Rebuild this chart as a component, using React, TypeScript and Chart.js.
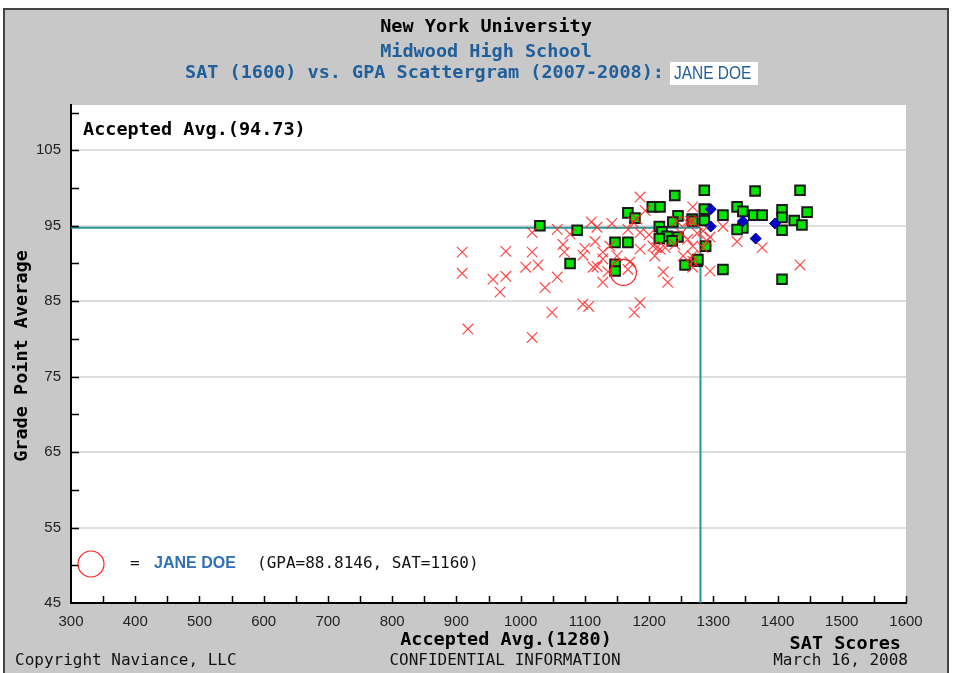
import { useEffect, useRef } from "react";
import { Chart, registerables } from "chart.js";
Chart.register(...registerables);

const COLLEGE = "New York University";
const SCHOOL = "Midwood High School";
const SUBTITLE = "SAT (1600) vs. GPA Scattergram (2007-2008):";
const STUDENT_NAME = "JANE DOE";
const STUDENT_GPA = 88.8146;
const STUDENT_SAT = 1160;
const ACCEPTED_AVG_GPA = 94.73;
const ACCEPTED_AVG_SAT = 1280;
const X_TITLE = "SAT Scores";
const Y_TITLE = "Grade Point Average";
const FOOT_LEFT = "Copyright Naviance, LLC";
const FOOT_MID = "CONFIDENTIAL INFORMATION";
const FOOT_RIGHT = "March 16, 2008";
const Y_TICKS = [45, 55, 65, 75, 85, 95, 105];

// [SAT, GPA]
const acceptedPts: number[][] = [
  [1030, 95.0], [1088, 94.4], [1077, 90.0], [1240, 99.0], [1205, 97.5], [1217, 97.5],
  [1167, 96.7], [1178, 96.0], [1245, 96.3], [1267, 95.9], [1237, 95.5], [1216, 94.9],
  [1220, 94.2], [1228, 93.6], [1245, 93.5], [1147, 92.8], [1167, 92.8], [1216, 93.3],
  [1236, 93.0], [1147, 89.9], [1147, 89.0], [1256, 89.8], [1275, 90.3], [1286, 99.7],
  [1365, 99.6], [1435, 99.7], [1286, 97.2], [1337, 97.5], [1346, 96.9], [1315, 96.4],
  [1363, 96.4], [1376, 96.4], [1407, 97.1], [1407, 96.1], [1426, 95.7], [1438, 95.1],
  [1446, 96.8], [1407, 94.4], [1346, 94.7], [1337, 94.5], [1286, 95.7], [1268, 95.6],
  [1288, 92.3], [1276, 90.5], [1315, 89.2], [1407, 87.9],
];

const waitlistedPts: number[][] = [
  [1296, 97.2], [1296, 94.9], [1346, 95.6], [1366, 93.3], [1396, 95.3],
];

const deniedPts: number[][] = [
  [909, 91.5], [909, 88.7], [918, 81.3], [957, 87.9], [968, 86.2], [977, 91.6],
  [977, 88.3], [1008, 89.5], [1018, 94.1], [1018, 91.5], [1018, 80.2], [1027, 89.8],
  [1038, 86.8], [1049, 83.5], [1057, 94.5], [1057, 88.2], [1066, 92.5], [1068, 91.5],
  [1077, 93.9], [1097, 91.1], [1097, 84.6], [1106, 84.3], [1110, 95.5], [1116, 92.9],
  [1119, 94.8], [1119, 89.6], [1128, 91.5], [1128, 90.6], [1128, 87.5], [1139, 92.3],
  [1136, 88.9], [1113, 89.5], [1142, 95.3], [1167, 94.5], [1175, 95.5], [1186, 98.8],
  [1186, 94.1], [1181, 95.9], [1186, 91.9], [1170, 90.2], [1167, 89.2], [1186, 84.8],
  [1177, 83.5], [1194, 97.0], [1206, 92.3], [1212, 92.1], [1217, 91.9], [1209, 91.0],
  [1225, 92.1], [1222, 88.9], [1229, 87.5], [1243, 95.6], [1259, 95.5], [1264, 95.6],
  [1253, 91.0], [1268, 90.3], [1268, 97.5], [1268, 95.6], [1284, 94.3], [1295, 93.5],
  [1315, 94.9], [1337, 92.9], [1376, 92.1], [1268, 92.3], [1284, 92.1], [1267, 91.0],
  [1268, 89.5], [1295, 89.0], [1435, 89.8], [1250, 94.0], [1260, 93.2], [1275, 94.0],
  [1240, 92.5], [1290, 93.0], [1200, 93.8], [1150, 91.0], [1100, 92.0],
];

const toXY = (arr: number[][]) => arr.map(([x, y]) => ({ x, y }));

const MONO = "'DejaVu Sans Mono'";
const SANS = "'Liberation Sans'";
const BLUE = "#215f9a";

export default function App() {
  const ref = useRef<HTMLCanvasElement | null>(null);
  useEffect(() => {
    if (!ref.current) return;
    const decor = {
      id: "decor",
      beforeDraw(chart: any) {
        const { ctx, chartArea: a } = chart;
        ctx.save();
        ctx.fillStyle = "#ffffff";
        ctx.fillRect(0, 0, 956, 673);
        ctx.fillStyle = "#c8c8c8";
        ctx.fillRect(3, 8, 945, 665);
        ctx.strokeStyle = "#444";
        ctx.lineWidth = 2;
        ctx.beginPath();
        ctx.moveTo(4, 673);
        ctx.lineTo(4, 9);
        ctx.lineTo(948, 9);
        ctx.lineTo(948, 673);
        ctx.stroke();
        ctx.fillStyle = "#ffffff";
        ctx.fillRect(a.left, a.top, a.right - a.left, a.bottom - a.top);
        ctx.restore();
      },
      afterDraw(chart: any) {
        const { ctx, chartArea: a, scales } = chart;
        const xs = scales.x;
        const ys = scales.y;
        ctx.save();
        // inward ticks
        ctx.strokeStyle = "#000";
        ctx.lineWidth = 1.5;
        ctx.beginPath();
        for (let v = 50; v <= 110; v += 5) {
          const py = Math.round(ys.getPixelForValue(v)) + 0.5;
          ctx.moveTo(a.left, py);
          ctx.lineTo(a.left + 8, py);
        }
        for (let v = 350; v <= 1600; v += 50) {
          const px = Math.round(xs.getPixelForValue(v)) + 0.5;
          ctx.moveTo(px, a.bottom);
          ctx.lineTo(px, a.bottom - 7);
        }
        ctx.stroke();

        // titles
        ctx.textBaseline = "middle";
        ctx.textAlign = "center";
        ctx.fillStyle = "#000";
        ctx.font = `bold 18.5px ${MONO}`;
        ctx.fillText(COLLEGE, 486, 27);
        ctx.fillStyle = BLUE;
        ctx.fillText(SCHOOL, 486, 52);
        ctx.textAlign = "left";
        ctx.fillText(SUBTITLE, 185, 73);
        ctx.fillStyle = "#ffffff";
        ctx.fillRect(670, 62, 88, 23);
        ctx.fillStyle = BLUE;
        ctx.font = `18px ${SANS}`;
        ctx.save();
        ctx.translate(674, 74);
        ctx.scale(0.86, 1);
        ctx.fillText(STUDENT_NAME, 0, 0);
        ctx.restore();

        // accepted avg labels
        ctx.fillStyle = "#000";
        ctx.font = `bold 18.5px ${MONO}`;
        ctx.fillText(`Accepted Avg.(${ACCEPTED_AVG_GPA.toFixed(2)})`, 83, 130);
        ctx.textAlign = "center";
        ctx.fillText(`Accepted Avg.(${ACCEPTED_AVG_SAT})`, 506, 640);
        ctx.textAlign = "right";
        ctx.fillText(X_TITLE, 901, 644);

        // y title
        ctx.save();
        ctx.translate(22, 356);
        ctx.rotate(-Math.PI / 2);
        ctx.textAlign = "center";
        ctx.fillText(Y_TITLE, 0, 0);
        ctx.restore();

        // footer
        ctx.font = `16px ${MONO}`;
        ctx.fillStyle = "#111";
        ctx.textAlign = "left";
        ctx.fillText(FOOT_LEFT, 15, 661);
        ctx.textAlign = "center";
        ctx.fillText(FOOT_MID, 505, 661);
        ctx.textAlign = "right";
        ctx.fillText(FOOT_RIGHT, 908, 661);

        // legend
        const lx = a.left + 20;
        const ly = a.bottom - 39;
        ctx.strokeStyle = "#ff2020";
        ctx.lineWidth = 1.2;
        ctx.beginPath();
        ctx.arc(lx, ly, 13, 0, Math.PI * 2);
        ctx.stroke();
        ctx.textAlign = "left";
        ctx.fillStyle = "#111";
        ctx.font = `16px ${MONO}`;
        ctx.fillText("=", 130, ly);
        ctx.fillStyle = "#2f6fb8";
        ctx.font = `bold 16px ${SANS}`;
        ctx.fillText(STUDENT_NAME, 154, ly);
        ctx.fillStyle = "#111";
        ctx.font = `16px ${MONO}`;
        ctx.fillText(`(GPA=${STUDENT_GPA}, SAT=${STUDENT_SAT})`, 257, ly);
        ctx.restore();
      },
    };

    const chart = new Chart(ref.current, {
      type: "scatter",
      data: {
        datasets: [
          {
            type: "line",
            data: [{ x: 300, y: ACCEPTED_AVG_GPA }, { x: ACCEPTED_AVG_SAT, y: ACCEPTED_AVG_GPA }],
            borderColor: "#2a9696",
            borderWidth: 2,
            pointRadius: 0,
            order: 6,
          } as any,
          {
            type: "line",
            data: [{ x: ACCEPTED_AVG_SAT, y: 45 }, { x: ACCEPTED_AVG_SAT, y: ACCEPTED_AVG_GPA }],
            borderColor: "#2a9696",
            borderWidth: 2,
            pointRadius: 0,
            order: 6,
          } as any,
          {
            data: toXY(acceptedPts),
            pointStyle: "rect",
            pointRadius: 6.8,
            backgroundColor: "#00e600",
            borderColor: "#1a1a1a",
            borderWidth: 2,
            order: 4,
          },
          {
            data: toXY(waitlistedPts),
            pointStyle: "rectRot",
            pointRadius: 5.5,
            backgroundColor: "#0000c8",
            borderColor: "#000080",
            borderWidth: 1,
            order: 3,
          },
          {
            data: toXY(deniedPts),
            pointStyle: "crossRot",
            pointRadius: 7.5,
            borderColor: "rgba(255,40,40,0.85)",
            borderWidth: 1.2,
            order: 2,
          },
          {
            data: [{ x: STUDENT_SAT, y: STUDENT_GPA }],
            pointStyle: "circle",
            pointRadius: 13,
            backgroundColor: "rgba(0,0,0,0)",
            borderColor: "#ff2020",
            borderWidth: 1.2,
            order: 1,
          },
        ],
      },
      options: {
        responsive: false,
        animation: false,
        layout: { padding: { left: 0, top: 105, right: 50, bottom: 0 } },
        plugins: { legend: { display: false }, tooltip: { enabled: false }, title: { display: false } },
        scales: {
          x: {
            type: "linear",
            min: 300,
            max: 1600,
            afterFit: (s: any) => { s.height = 70; },
            ticks: {
              stepSize: 100, autoSkip: false, maxRotation: 0, padding: 2, color: "#222",
              font: { family: "Liberation Sans", size: 15 },
              callback: (v: any) => String(v),
            },
            grid: { display: false },
            border: { display: true, color: "#000", width: 2 },
          },
          y: {
            type: "linear",
            min: 45,
            max: 111,
            afterFit: (s: any) => { s.width = 71; },
            afterBuildTicks: (s: any) => { s.ticks = Y_TICKS.map((v) => ({ value: v })); },
            ticks: { padding: 10, color: "#222", font: { family: "Liberation Sans", size: 15 } },
            grid: { color: "#dedede", lineWidth: 2, drawTicks: false },
            border: { display: true, color: "#000", width: 2 },
          },
        },
      } as any,
      plugins: [decor],
    });
    return () => chart.destroy();
  }, []);
  return (
    <div style={{ position: "fixed", left: 0, top: 0, width: 956, height: 673 }}>
      <canvas ref={ref} width={956} height={673} style={{ width: 956, height: 673, display: "block" }} />
    </div>
  );
}
